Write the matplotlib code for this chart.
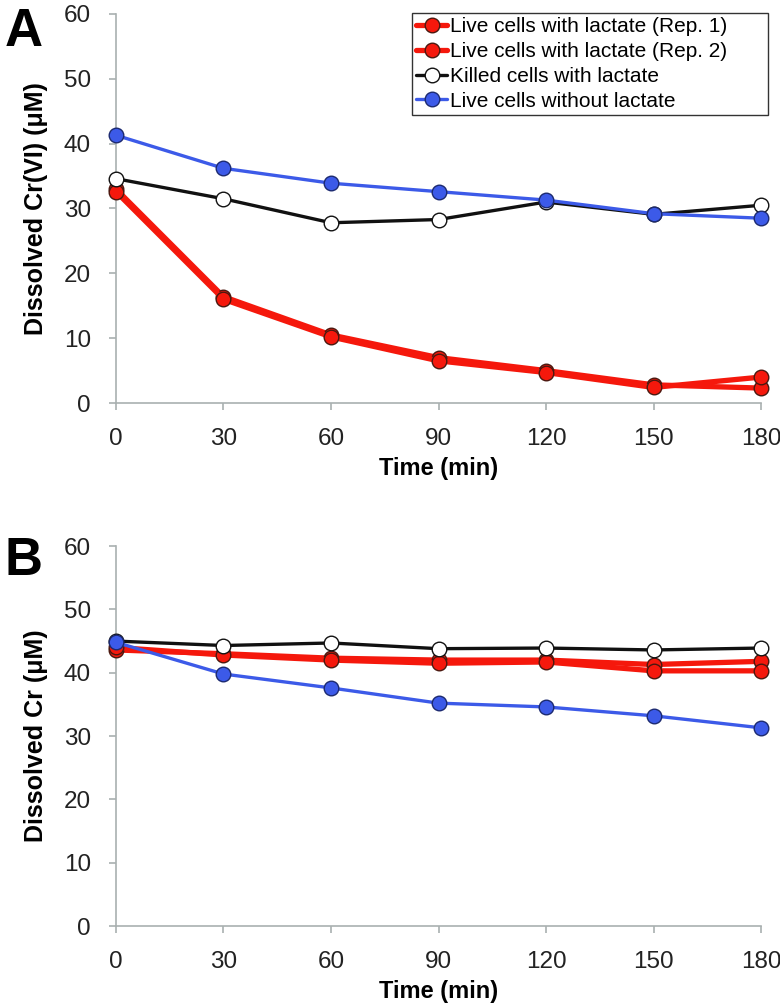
import matplotlib
matplotlib.use("Agg")
import matplotlib.pyplot as plt

plt.rcParams['font.family'] = ['Liberation Sans', 'DejaVu Sans']

time_min = [0, 30, 60, 90, 120, 150, 180]

# panel A: dissolved Cr(VI)
a_live_rep1 = [33.0, 16.4, 10.5, 7.0, 5.0, 2.8, 2.3]
a_live_rep2 = [32.6, 16.0, 10.2, 6.5, 4.7, 2.4, 4.0]
a_killed = [34.6, 31.5, 27.8, 28.3, 31.0, 29.1, 30.5]
a_no_lactate = [41.3, 36.2, 33.9, 32.6, 31.3, 29.2, 28.5]

# panel B: dissolved total Cr
b_live_rep1 = [43.6, 43.0, 42.3, 42.0, 42.0, 41.3, 41.8]
b_live_rep2 = [44.0, 42.8, 42.0, 41.5, 41.7, 40.3, 40.3]
b_killed = [45.0, 44.3, 44.7, 43.8, 43.9, 43.6, 43.9]
b_no_lactate = [44.8, 39.8, 37.6, 35.2, 34.6, 33.2, 31.3]

labels = ["Live cells with lactate (Rep. 1)", "Live cells with lactate (Rep. 2)",
          "Killed cells with lactate", "Live cells without lactate"]
xticks = [0, 30, 60, 90, 120, 150, 180]
yticks = [0, 10, 20, 30, 40, 50, 60]

RED = '#f5180c'
BLUE = '#3c5ae8'
GRAY = '#a9b0b0'

styles = [
    dict(color=RED, lw=3.8, mfc=RED, mec='#4a1810', zorder=3),
    dict(color=RED, lw=3.8, mfc=RED, mec='#4a1810', zorder=3),
    dict(color='#111111', lw=2.4, mfc='white', mec='#111111', zorder=4),
    dict(color=BLUE, lw=2.4, mfc=BLUE, mec='#1c2a70', zorder=5),
]

fig = plt.figure(figsize=(7.8, 10.07), dpi=100)
axA = fig.add_axes([0.1487, 0.5998, 0.827, 0.3863])
axB = fig.add_axes([0.1487, 0.0804, 0.827, 0.3773])


def draw(ax, series, ylab):
    lines = []
    for ys, st, lab in zip(series, styles, labels):
        ln, = ax.plot(time_min, ys, marker='o', ms=10.5, mew=1.0, label=lab,
                      solid_capstyle='round', **st)
        lines.append(ln)
    ax.set_xlim(0, 180)
    ax.set_ylim(0, 60)
    ax.set_xticks(xticks)
    ax.set_yticks(yticks)
    for s in ['top', 'right']:
        ax.spines[s].set_visible(False)
    for s in ['left', 'bottom']:
        ax.spines[s].set_color(GRAY)
        ax.spines[s].set_linewidth(1.2)
    ax.tick_params(direction='out', length=5, width=1.2, color=GRAY,
                   labelsize=17.5, pad=13, labelcolor='#222222')
    for ln in lines:
        ln.set_clip_on(False)
    ax.set_xlabel('Time (min)', fontsize=17, fontweight='bold', labelpad=5)
    ax.set_ylabel(ylab, fontsize=18, fontweight='bold')
    ax.yaxis.set_label_coords(-0.105, 0.5)
    return lines


linesA = draw(axA, [a_live_rep1, a_live_rep2, a_killed, a_no_lactate],
              'Dissolved Cr(VI) (\u03bcM)')
draw(axB, [b_live_rep1, b_live_rep2, b_killed, b_no_lactate],
     'Dissolved Cr (\u03bcM)')

leg = axA.legend(handles=linesA, loc='upper left',
                 bbox_to_anchor=(412 / 780, 1 - 127 / 1007, (768 - 412) / 780, 114 / 1007),
                 bbox_transform=fig.transFigure, mode='expand',
                 fontsize=15, frameon=True, fancybox=False, framealpha=1,
                 borderpad=0.2, labelspacing=0.28, handlelength=1.5,
                 handletextpad=0.1, borderaxespad=0)
leg.get_frame().set_edgecolor('#333333')
leg.get_frame().set_linewidth(1.0)
leg.set_zorder(10)

fig.text(0.006, 0.993, 'A', fontsize=38, fontweight='bold', va='top', ha='left')
fig.text(0.006, 0.468, 'B', fontsize=38, fontweight='bold', va='top', ha='left')

fig.savefig('out.png', dpi=100)
